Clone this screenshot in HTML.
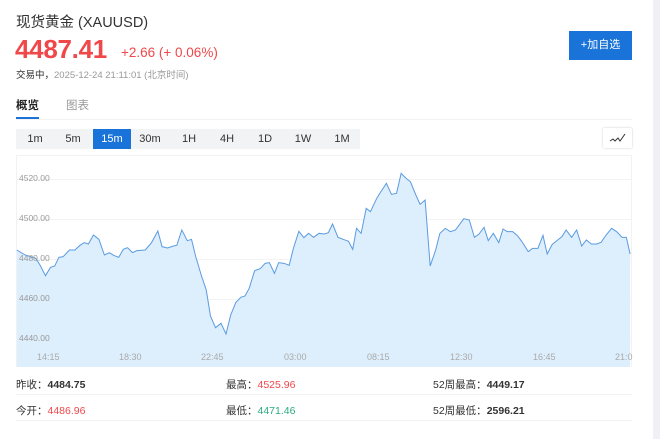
<!DOCTYPE html>
<html><head><meta charset="utf-8"><style>
*{margin:0;padding:0;box-sizing:border-box}
body{width:660px;height:439px;background:#fff;position:relative;overflow:hidden;font-family:"Liberation Sans","Noto Sans CJK SC",sans-serif;color:#333}
.a{position:absolute;white-space:nowrap}
.bar{position:absolute;left:653px;top:0;width:7px;height:439px;background:#f0f1f5}
.tb{position:absolute;top:129px;height:20px;font-size:11px;line-height:20px;text-align:center;width:38px;color:#333}
.yl{position:absolute;left:19px;font-size:8.5px;color:#999}
.xl{position:absolute;top:352px;font-size:9px;color:#aaa}
.st{position:absolute;font-size:10.5px;color:#333}
.st b{font-weight:bold}
</style></head><body>
<div class="bar"></div>
<div class="a" style="left:16px;top:11px;font-size:14.5px;color:#333">现货黄金 (XAUUSD)</div>
<div class="a" style="left:15px;top:34px;font-size:26px;font-weight:bold;color:#f0474a;letter-spacing:-0.3px">4487.41</div>
<div class="a" style="left:121px;top:45px;font-size:13.5px;color:#f0474a">+2.66 (+ 0.06%)</div>
<div class="a" style="left:16px;top:67px;font-size:9.5px;color:#999"><span style="color:#333">交易中，</span>2025-12-24 21:11:01 (北京时间)</div>
<div class="a" style="left:569px;top:31px;width:63px;height:29px;background:#1a73d9;color:#fff;font-size:11px;line-height:29px;text-align:center">+加自选</div>
<div class="a" style="left:16px;top:97px;font-size:11.5px;font-weight:bold;color:#222">概览</div>
<div class="a" style="left:66px;top:97px;font-size:11.5px;color:#999">图表</div>
<div class="a" style="left:16px;top:117px;width:23px;height:2px;background:#1a73d9"></div>
<div class="a" style="left:16px;top:119px;width:616px;height:1px;background:#f2f2f2"></div>
<div class="a" style="left:16px;top:129px;width:344px;height:20px;background:#f2f3f5"></div>
<div class="tb" style="left:16px">1m</div>
<div class="tb" style="left:54px">5m</div>
<div class="tb" style="left:93px;background:#1a73d9;color:#fff">15m</div>
<div class="tb" style="left:131px">30m</div>
<div class="tb" style="left:170px">1H</div>
<div class="tb" style="left:208px">4H</div>
<div class="tb" style="left:246px">1D</div>
<div class="tb" style="left:284px">1W</div>
<div class="tb" style="left:323px">1M</div>
<div class="a" style="left:603px;top:128px;width:29px;height:20px;background:#fff;box-shadow:0 0 2px #ccc"></div>
<svg class="a" style="left:609px;top:132px" width="18" height="12" viewBox="0 0 18 12"><polyline points="1,9 4,7 6,9 9,6 11,9 16,2" fill="none" stroke="#333" stroke-width="1"/></svg>
<div class="a" style="left:16px;top:155px;width:616px;height:212px;border:1px solid #f2f2f2;border-bottom:none"></div>
<div class="a" style="left:16px;top:179px;width:616px;height:1px;background:#f3f3f3"></div>
<div class="a" style="left:16px;top:219px;width:616px;height:1px;background:#f3f3f3"></div>
<div class="a" style="left:16px;top:259px;width:616px;height:1px;background:#f3f3f3"></div>
<div class="a" style="left:16px;top:299px;width:616px;height:1px;background:#f3f3f3"></div>
<div class="a" style="left:16px;top:339px;width:616px;height:1px;background:#f3f3f3"></div>
<svg class="a" style="left:0;top:160px" width="660" height="207" viewBox="0 0 1568 621" preserveAspectRatio="none">
<polygon fill="#ddeefd" points="40,621 40,270 60,285 85,295 95,315 108,347 120,322 130,318 140,292 150,290 165,270 178,270 190,256 200,248 210,252 222,225 235,238 248,285 260,278 270,286 282,292 293,268 303,263 315,278 325,272 345,270 360,248 375,213 385,260 398,264 412,258 420,256 432,210 445,242 455,238 465,290 478,345 490,390 500,468 512,503 525,490 537,522 548,465 560,428 572,412 582,408 592,385 605,332 618,326 630,310 640,308 652,340 662,308 675,310 687,316 697,265 710,214 722,233 733,220 745,232 758,220 770,222 780,218 790,192 803,232 815,238 828,244 838,268 847,205 858,220 870,145 880,155 895,115 905,95 918,70 930,103 942,100 953,40 965,55 975,65 988,105 998,133 1010,120 1022,318 1035,270 1045,220 1058,205 1070,215 1082,210 1092,193 1102,176 1115,180 1127,232 1138,222 1150,202 1160,242 1172,220 1185,248 1195,207 1205,215 1218,215 1230,228 1240,245 1255,275 1265,265 1278,265 1290,226 1300,282 1312,253 1325,240 1335,230 1345,210 1358,232 1370,210 1382,258 1393,240 1405,252 1418,252 1428,247 1440,225 1453,205 1465,215 1478,232 1488,232 1497,282 1497,621"/>
<polyline fill="none" stroke="#5b9be0" stroke-width="1" vector-effect="non-scaling-stroke" points="40,270 60,285 85,295 95,315 108,347 120,322 130,318 140,292 150,290 165,270 178,270 190,256 200,248 210,252 222,225 235,238 248,285 260,278 270,286 282,292 293,268 303,263 315,278 325,272 345,270 360,248 375,213 385,260 398,264 412,258 420,256 432,210 445,242 455,238 465,290 478,345 490,390 500,468 512,503 525,490 537,522 548,465 560,428 572,412 582,408 592,385 605,332 618,326 630,310 640,308 652,340 662,308 675,310 687,316 697,265 710,214 722,233 733,220 745,232 758,220 770,222 780,218 790,192 803,232 815,238 828,244 838,268 847,205 858,220 870,145 880,155 895,115 905,95 918,70 930,103 942,100 953,40 965,55 975,65 988,105 998,133 1010,120 1022,318 1035,270 1045,220 1058,205 1070,215 1082,210 1092,193 1102,176 1115,180 1127,232 1138,222 1150,202 1160,242 1172,220 1185,248 1195,207 1205,215 1218,215 1230,228 1240,245 1255,275 1265,265 1278,265 1290,226 1300,282 1312,253 1325,240 1335,230 1345,210 1358,232 1370,210 1382,258 1393,240 1405,252 1418,252 1428,247 1440,225 1453,205 1465,215 1478,232 1488,232 1497,282"/>
</svg>
<div class="yl" style="top:173px">4520.00</div>
<div class="yl" style="top:213px">4500.00</div>
<div class="yl" style="top:253px">4480.00</div>
<div class="yl" style="top:293px">4460.00</div>
<div class="yl" style="top:333px">4440.00</div>
<div class="xl" style="left:37px">14:15</div>
<div class="xl" style="left:119px">18:30</div>
<div class="xl" style="left:201px">22:45</div>
<div class="xl" style="left:284px">03:00</div>
<div class="xl" style="left:367px">08:15</div>
<div class="xl" style="left:450px">12:30</div>
<div class="xl" style="left:533px">16:45</div>
<div class="xl" style="left:615px">21:0</div>
<div class="a" style="left:16px;top:394px;width:616px;height:1px;background:#f2f2f2"></div>
<div class="a" style="left:16px;top:420px;width:616px;height:1px;background:#f2f2f2"></div>
<div class="st" style="left:16px;top:377px">昨收：<b>4484.75</b></div>
<div class="st" style="left:226px;top:377px">最高：<span style="color:#f0474a">4525.96</span></div>
<div class="st" style="left:433px;top:377px">52周最高：<b>4449.17</b></div>
<div class="st" style="left:16px;top:403px">今开：<span style="color:#f0474a">4486.96</span></div>
<div class="st" style="left:226px;top:403px">最低：<span style="color:#2bab7c">4471.46</span></div>
<div class="st" style="left:433px;top:403px">52周最低：<b>2596.21</b></div>
</body></html>
